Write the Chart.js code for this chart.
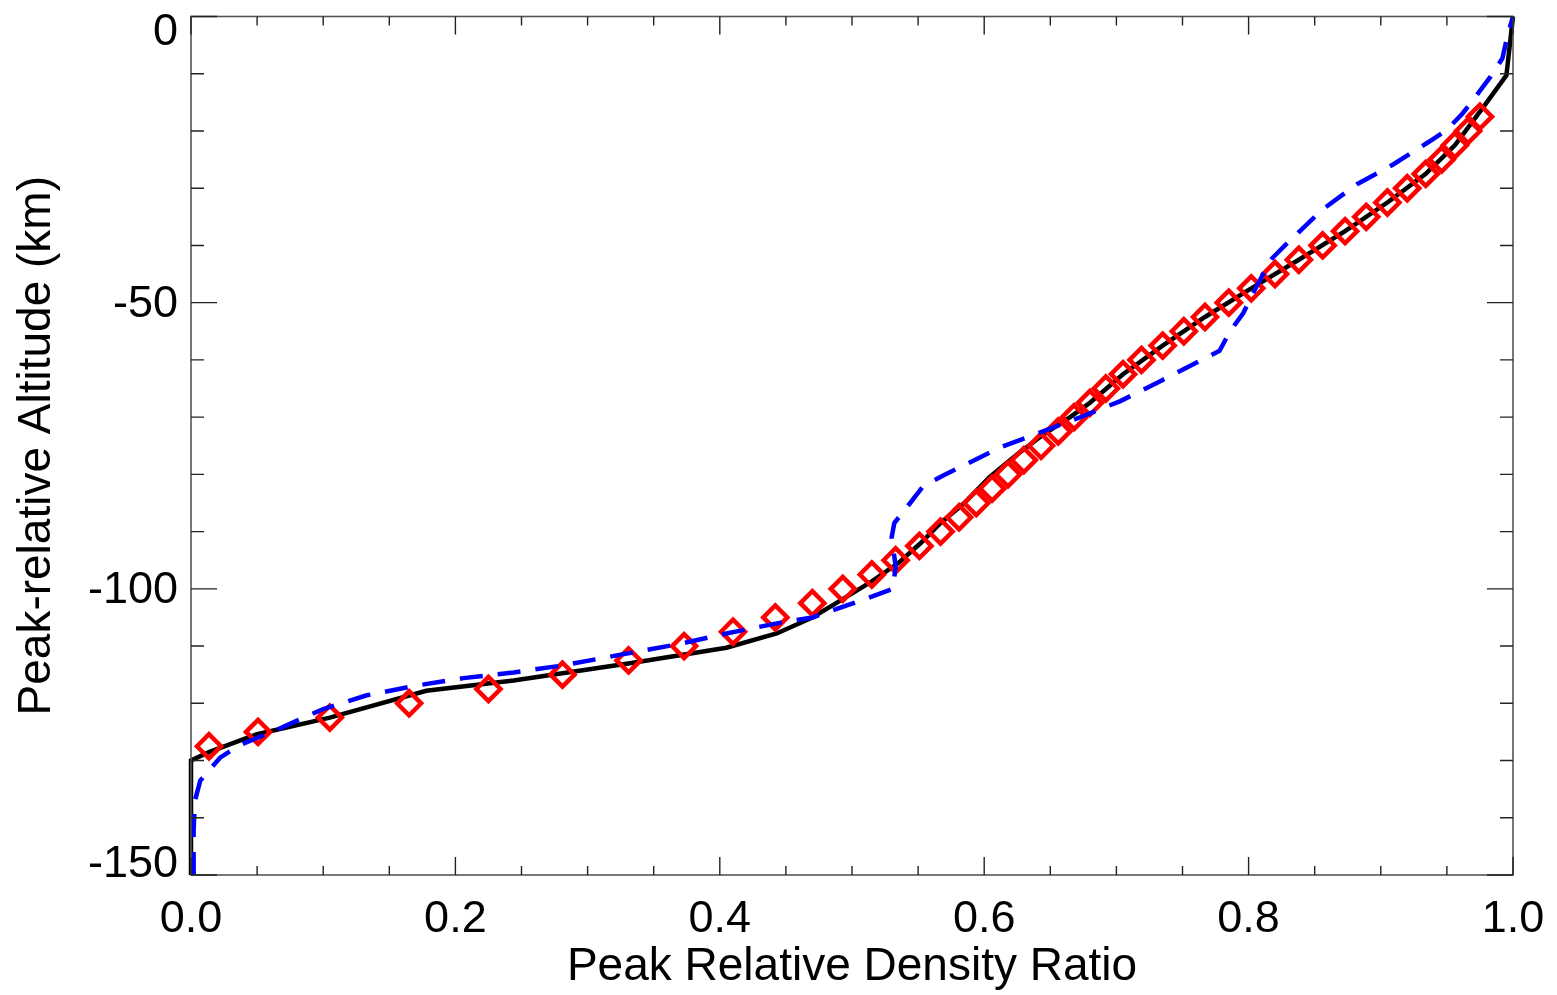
<!DOCTYPE html>
<html>
<head>
<meta charset="utf-8">
<script src="https://cdn.jsdelivr.net/npm/chart.js@4/dist/chart.umd.min.js"></script>
<style>
html,body{margin:0;padding:0;background:#fff;}
#wrap{width:1557px;height:995px;}
</style>
</head>
<body>
<div id="wrap"><canvas id="c" width="1557" height="995"></canvas></div>
<script>
// ---- Data ----
const xTickValues = [0.0, 0.2, 0.4, 0.6, 0.8, 1.0];
const yTickValues = [0, -50, -100, -150];

// Black solid profile
const blackX = [0.0, 0.0, 0.014, 0.05, 0.105, 0.178, 0.244, 0.332, 0.405, 0.443, 0.47, 0.493, 0.515, 0.535, 0.552, 0.567, 0.585, 0.604, 0.625, 0.645, 0.665, 0.68, 0.705, 0.735, 0.767, 0.802, 0.838, 0.873, 0.905, 0.934, 0.956, 0.977, 0.995, 1.0];
const blackY = [-150, -130, -128.5, -125.4, -122.5, -117.8, -116, -113, -110.3, -107.8, -105, -101.8, -98.7, -95.5, -92, -88.5, -85, -80.5, -76.5, -73, -70, -67.5, -62.5, -57.5, -52.5, -47.5, -42.5, -37.5, -32.5, -27.5, -22.5, -16, -10.3, 0];

// Blue dashed profile
const blueX = [0.002, 0.002, 0.003, 0.007, 0.022, 0.037, 0.067, 0.1, 0.133, 0.168, 0.206, 0.244, 0.281, 0.325, 0.37, 0.405, 0.446, 0.47, 0.5, 0.531, 0.533, 0.53, 0.532, 0.544, 0.554, 0.569, 0.612, 0.642, 0.675, 0.703, 0.735, 0.778, 0.786, 0.796, 0.803, 0.811, 0.818, 0.831, 0.856, 0.882, 0.909, 0.937, 0.95, 0.962, 0.973, 0.983, 0.992, 0.996, 1.0];
const blueY = [-150, -142, -137, -133.5, -129.5, -127.3, -124.4, -121, -118.6, -117, -115.6, -114.6, -113.4, -111.5, -109.6, -107.8, -105.9, -105, -102.6, -100, -96, -91, -88.5, -85, -82, -80.2, -75.3, -72.7, -69.8, -67.2, -63.5, -58.4, -55, -51.8, -48.5, -45, -42.2, -39.2, -33.7, -29.3, -25.9, -21.8, -19.8, -16.9, -13.6, -10.5, -7.3, -3.2, 0];

// Red diamond markers
const markerX = [0.0136, 0.0507, 0.105, 0.165, 0.225, 0.281, 0.331, 0.373, 0.41, 0.442, 0.47, 0.493, 0.515, 0.533, 0.551, 0.567, 0.581, 0.594, 0.606, 0.618, 0.630, 0.643, 0.656, 0.668, 0.680, 0.692, 0.705, 0.719, 0.735, 0.751, 0.767, 0.785, 0.802, 0.820, 0.838, 0.856, 0.873, 0.889, 0.905, 0.920, 0.934, 0.946, 0.956, 0.966, 0.975];
const markerY = [-127.5, -125, -122.5, -120, -117.5, -115, -112.5, -110, -107.5, -105, -102.5, -100, -97.5, -95, -92.5, -90, -87.5, -85, -82.5, -80, -77.5, -75, -72.5, -70, -67.5, -65, -62.5, -60, -57.5, -55, -52.5, -50, -47.5, -45, -42.5, -40, -37.5, -35, -32.5, -30, -27.5, -25, -22.5, -20, -17.5];

const xTitle = 'Peak Relative Density Ratio';
const yTitle = 'Peak-relative Altitude (km)';

const toPts = (xs, ys) => xs.map((x, i) => ({x: x, y: ys[i]}));

const FONT = '"Liberation Sans", Arial, Helvetica, sans-serif';

// Frame, inward ticks, y tick labels
const framePlugin = {
  id: 'framePlugin',
  afterDraw(chart) {
    const {ctx, chartArea: a, scales: {x, y}} = chart;
    ctx.save();
    ctx.strokeStyle = '#555';
    ctx.lineWidth = 1.6;
    ctx.strokeRect(a.left, a.top, a.right - a.left, a.bottom - a.top);
    ctx.strokeStyle = '#222';
    ctx.lineWidth = 1.4;
    ctx.beginPath();
    // x ticks every 0.05, major every 0.2
    for (let k = 0; k <= 20; k++) {
      const v = k * 0.05;
      const px = x.getPixelForValue(v);
      const len = (k % 4 === 0) ? 18 : 9;
      ctx.moveTo(px, a.bottom); ctx.lineTo(px, a.bottom - len);
      ctx.moveTo(px, a.top); ctx.lineTo(px, a.top + len);
    }
    // y ticks every 10, major every 50
    for (let k = 0; k <= 15; k++) {
      const v = -k * 10;
      const py = y.getPixelForValue(v);
      const len = (k % 5 === 0) ? 26 : 13;
      ctx.moveTo(a.left, py); ctx.lineTo(a.left + len, py);
      ctx.moveTo(a.right, py); ctx.lineTo(a.right - len, py);
    }
    ctx.stroke();
    // y tick labels
    ctx.fillStyle = '#000';
    ctx.font = '45px ' + FONT;
    ctx.textAlign = 'right';
    ctx.textBaseline = 'middle';
    yTickValues.forEach(v => {
      let py = y.getPixelForValue(v);
      py = Math.max(a.top + 14, Math.min(a.bottom - 12, py));
      ctx.fillText(String(v), a.left - 13, py + 2);
    });
    ctx.restore();
  }
};

new Chart(document.getElementById('c'), {
  type: 'scatter',
  data: {
    datasets: [
      {
        label: 'Blue',
        type: 'line',
        data: toPts(blueX, blueY),
        borderColor: '#0000ff',
        borderWidth: 4.5,
        borderDash: [23, 15],
        pointRadius: 0,
        tension: 0,
        fill: false,
        clip: false
      },
      {
        label: 'Red',
        data: toPts(markerX, markerY),
        pointStyle: 'rectRot',
        pointRadius: 12,
        pointHoverRadius: 12,
        borderColor: '#ff0000',
        backgroundColor: 'rgba(0,0,0,0)',
        borderWidth: 4.5,
        clip: false
      },
      {
        label: 'Black',
        type: 'line',
        data: toPts(blackX, blackY),
        borderColor: '#000000',
        borderWidth: 4.5,
        pointRadius: 0,
        tension: 0,
        fill: false,
        clip: false
      }
    ]
  },
  options: {
    responsive: false,
    animation: false,
    devicePixelRatio: 1,
    layout: {padding: {top: 15, right: 44, left: 0, bottom: 0}},
    plugins: {legend: {display: false}, tooltip: {enabled: false}},
    scales: {
      x: {
        type: 'linear',
        min: 0, max: 1,
        afterBuildTicks: s => { s.ticks = xTickValues.map(v => ({value: v})); },
        afterFit: s => { s.height = 120; s.paddingLeft = 0; s.paddingRight = 0; },
        grid: {display: false, drawTicks: false},
        border: {display: false},
        ticks: {
          color: '#000',
          font: {family: FONT, size: 45},
          padding: 18,
          maxRotation: 0,
          autoSkip: false,
          callback: v => Number(v).toFixed(1)
        },
        title: {
          display: true,
          text: xTitle,
          color: '#000',
          font: {family: FONT, size: 46},
          padding: {top: 0, bottom: 0}
        }
      },
      y: {
        type: 'linear',
        min: -150, max: 0,
        afterBuildTicks: s => { s.ticks = yTickValues.map(v => ({value: v})); },
        afterFit: s => { s.width = 191; s.paddingTop = 0; s.paddingBottom = 0; },
        grid: {display: false, drawTicks: false},
        border: {display: false},
        ticks: {display: false},
        title: {
          display: true,
          text: yTitle,
          color: '#000',
          font: {family: FONT, size: 46},
          padding: {top: 10, bottom: 0}
        }
      }
    }
  },
  plugins: [framePlugin]
});
</script>
</body>
</html>
